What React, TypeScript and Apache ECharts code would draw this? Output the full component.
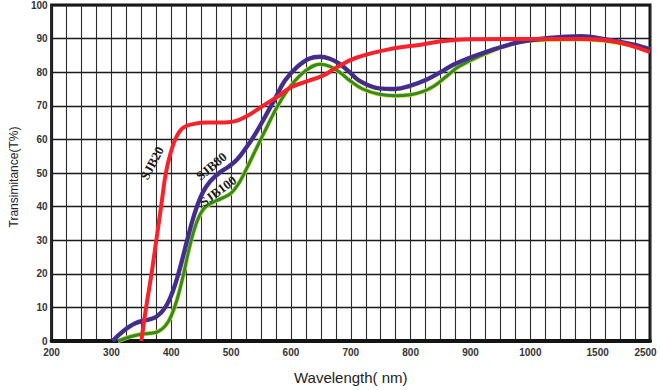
import React, { useEffect, useRef } from "react";
import * as echarts from "echarts";

// x positions are in axis units: 200..1000 nm linear, then the compressed 1000..2500 nm span (1000..1200 units)
const tickPos = [200, 300, 400, 500, 600, 700, 800, 900, 1000, 1112.5, 1192.5];
const tickLabels = ["200", "300", "400", "500", "600", "700", "800", "900", "1000", "1500", "2500"];

const sjb20X = [350, 358, 367, 375, 383, 391, 399, 408, 420, 440, 460, 480, 495, 510, 525, 545, 562, 580, 600, 630, 654, 676, 709, 763, 817, 856, 900, 1000, 1085, 1139, 1200];
const sjb20T = [0, 10, 20, 30, 40, 50, 56, 60.5, 63.5, 64.7, 65, 65, 65.1, 65.6, 66.8, 69, 71, 73, 75.5, 77.5, 79, 81.4, 84.3, 86.8, 88.2, 89.3, 89.8, 89.9, 89.9, 89.2, 86];

const sjb80X = [302, 320, 340, 360, 375, 390, 403, 415, 428, 440, 452, 465, 480, 495, 510, 525, 540, 556, 573, 590, 610, 630, 649, 665, 682, 698, 714, 747, 774, 800, 828, 850, 873, 922, 976, 1031, 1085, 1129, 1173, 1200];
const sjb80T = [0, 3, 5.3, 6.3, 7.2, 10, 15, 22, 31, 38.5, 44, 47.5, 50, 51.8, 54, 57.5, 61.5, 66.5, 72, 77.5, 81.5, 84, 84.6, 84, 82.4, 80, 77.5, 75.2, 75, 76, 77.9, 80, 82.4, 85.8, 88.7, 90.2, 90.7, 89.7, 88.2, 86.8];

const sjb100X = [311, 330, 349, 365, 378, 390, 400, 410, 420, 432, 444, 455, 470, 485, 500, 513, 525, 540, 556, 578, 600, 625, 649, 665, 682, 700, 720, 746, 774, 800, 820, 840, 860, 880, 922, 976, 1031, 1085, 1139, 1200];
const sjb100T = [0, 1.2, 2, 2.3, 2.8, 4.5, 7.5, 12.5, 19.5, 29, 36, 39.5, 41.3, 42.5, 44, 47, 51, 56.5, 62.3, 70, 76, 80.5, 82.4, 81.7, 79.9, 77.3, 75, 73.5, 73, 73.3, 74.2, 76, 78.8, 81.6, 85.3, 88.7, 89.7, 89.9, 89, 86.8];

const seriesNames = ["SJB20", "SJB80", "SJB100"];
const labelAt = [
  { x: 368, t: 53, rot: 62 },
  { x: 467, t: 52, rot: 40 },
  { x: 478, t: 44.6, rot: 37 },
];

const zip = (xs: number[], ys: number[]) => xs.map((x, i) => [x, ys[i]]);

export default function App() {
  const ref = useRef<HTMLDivElement>(null);
  useEffect(() => {
    const chart = echarts.init(ref.current!, undefined, { renderer: "svg" });
    const labelMap: Record<string, string> = {};
    tickPos.forEach((p, i) => (labelMap[(Math.round(p * 10) / 10).toString()] = tickLabels[i]));

    const mkLabel = (i: number) => ({
      silent: true,
      symbol: "circle",
      symbolSize: 1,
      itemStyle: { color: "rgba(0,0,0,0)" },
      data: [
        {
          coord: [labelAt[i].x, labelAt[i].t],
          label: {
            show: true,
            position: "inside",
            formatter: seriesNames[i],
            rotate: labelAt[i].rot,
            fontFamily: "Liberation Serif, Times New Roman, serif",
            fontWeight: "bold",
            fontSize: 13,
            color: "#1a1a1a",
          },
        },
      ],
    });

    const line = (name: string, data: number[][], color: string, width: number, z: number, extra: any = {}) => ({
      name,
      type: "line",
      data,
      smooth: 0.4,
      showSymbol: false,
      symbol: "none",
      lineStyle: { color, width },
      z,
      ...extra,
    });

    chart.setOption({
      animation: false,
      backgroundColor: "#fff",
      grid: {
        left: 39,
        right: 10,
        top: 5,
        bottom: 45,
        show: true,
        borderWidth: 3,
        borderColor: "#151515",
        backgroundColor: "#fff",
      },
      xAxis: [
        {
          type: "value",
          min: 200,
          max: 1200,
          interval: 25,
          name: "Wavelength( nm)",
          nameLocation: "middle",
          nameGap: 29,
          nameTextStyle: { fontFamily: "Liberation Sans, Arial, sans-serif", fontSize: 15, color: "#222" },
          axisLabel: { show: false },
          axisTick: { show: false },
          axisLine: { show: true, lineStyle: { color: "#151515", width: 4 } },
          splitLine: { show: true, lineStyle: { color: "#2a2a2a", width: 1.1 } },
        },
        {
          type: "value",
          min: 200,
          max: 1200,
          interval: 2.5,
          position: "bottom",
          axisTick: { show: false },
          axisLine: { show: false },
          splitLine: { show: false },
          axisLabel: {
            margin: 6,
            fontFamily: "Liberation Sans, Arial, sans-serif",
            fontSize: 10,
            fontWeight: "bold",
            color: "#333",
            formatter: (v: number) => labelMap[(Math.round(v * 10) / 10).toString()] || "",
          },
        },
      ],
      yAxis: {
        type: "value",
        min: 0,
        max: 100,
        interval: 10,
        name: "Transimitance(T%)",
        nameLocation: "middle",
        nameGap: 25,
        nameTextStyle: { fontFamily: "Liberation Sans, Arial, sans-serif", fontSize: 12, color: "#222", padding: [0, 8, 0, 0] },
        axisLine: { show: false },
        axisTick: { show: false },
        axisLabel: {
          margin: 4,
          fontFamily: "Liberation Sans, Arial, sans-serif",
          fontSize: 10,
          fontWeight: "bold",
          color: "#333",
        },
        splitLine: { show: true, lineStyle: { color: "#1a1a1a", width: 1.4 } },
      },
      series: [
        line("SJB100-edge", zip(sjb100X, sjb100T), "#d9d62a", 4.4, 2, { silent: true }),
        line("SJB100", zip(sjb100X, sjb100T), "#2f8a2c", 3, 3, { markPoint: mkLabel(2) }),
        line("SJB80-edge", zip(sjb80X, sjb80T), "#2c3fc0", 4.4, 4, { silent: true }),
        line("SJB80", zip(sjb80X, sjb80T), "#4f2a78", 3, 5, { markPoint: mkLabel(1) }),
        line("SJB20", zip(sjb20X, sjb20T), "#f8222c", 4, 6, { markPoint: mkLabel(0) }),
      ],
    });
    return () => chart.dispose();
  }, []);
  return <div ref={ref} style={{ position: "fixed", left: 0, top: 0, width: 660, height: 390 }} />;
}
